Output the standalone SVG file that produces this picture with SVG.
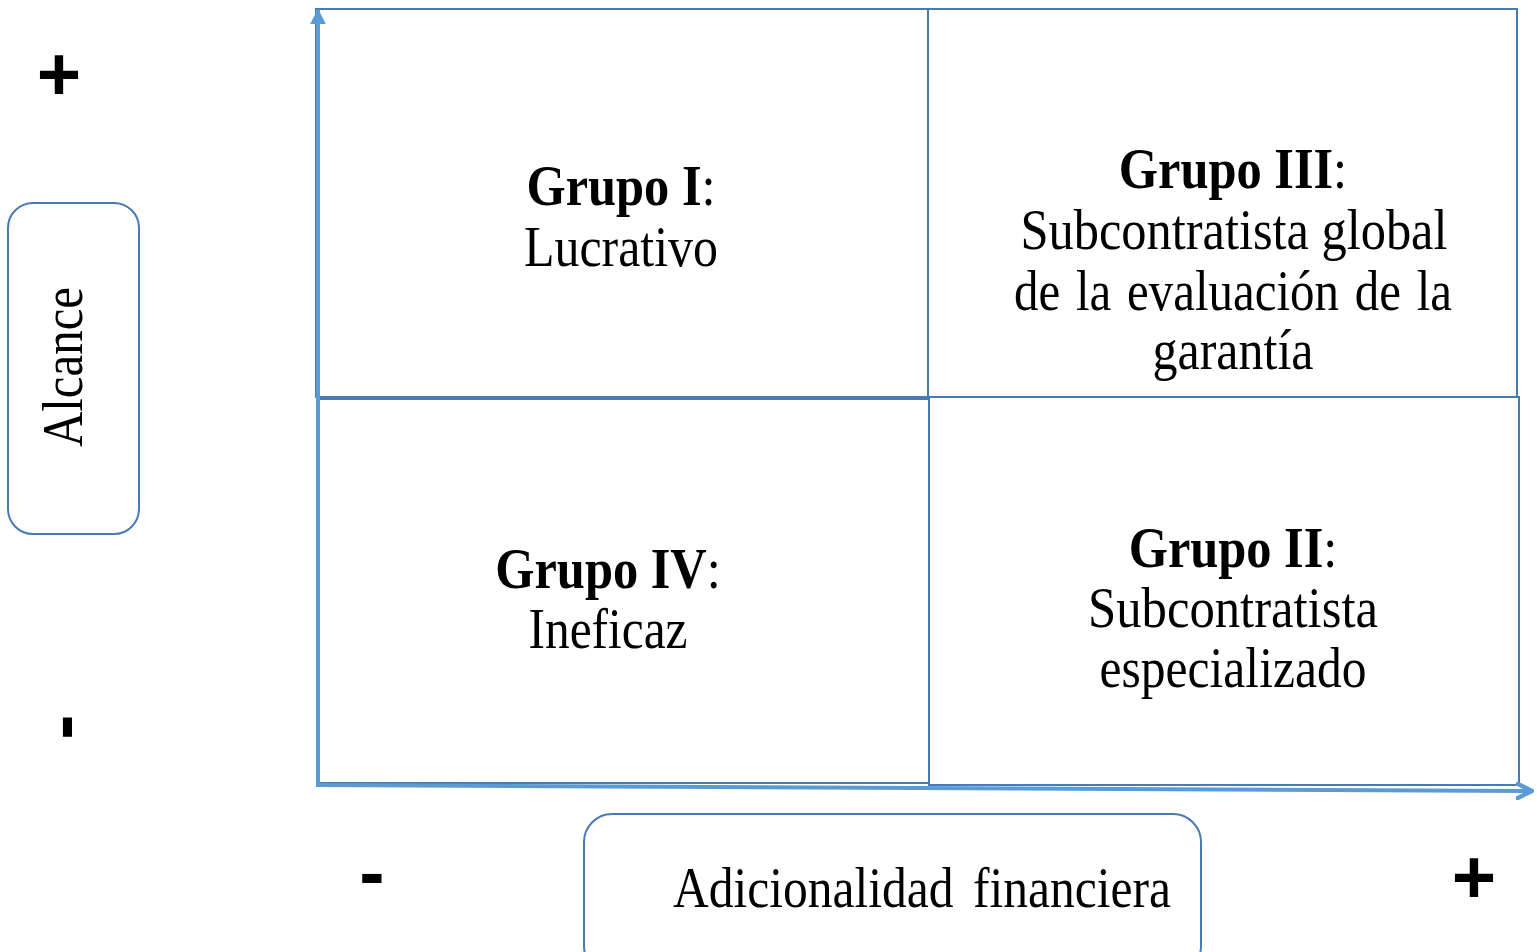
<svg xmlns="http://www.w3.org/2000/svg" width="1537" height="952" viewBox="0 0 1537 952">
<style>
.box{fill:#fff;stroke:#4a7ab2;stroke-width:2}
.lbl{fill:#fff;stroke:#4a7ab2;stroke-width:2}
.t{font-family:"Liberation Serif","Times New Roman",serif;font-size:56px;fill:#000;text-anchor:middle}
.b{font-weight:bold}
.sym{font-family:"Liberation Sans",Arial,sans-serif;font-weight:bold;font-size:76px;fill:#000;text-anchor:middle}
.axis{stroke:#5b9bd5;stroke-width:4;fill:none}
</style>
<defs>
<marker id="tri" viewBox="0 0 10 10" refX="9" refY="5" markerWidth="4" markerHeight="4" orient="auto" markerUnits="strokeWidth">
<path d="M0,0 L10,5 L0,10 z" fill="#5b9bd5"/>
</marker>
<marker id="chev" viewBox="0 0 10 10" refX="9" refY="5" markerWidth="4.5" markerHeight="4.5" orient="auto" markerUnits="strokeWidth">
<path d="M1,1 L9,5 L1,9" fill="none" stroke="#5b9bd5" stroke-width="2.4" stroke-linecap="round" stroke-linejoin="round"/>
</marker>
</defs>
<rect width="1537" height="952" fill="#fff"/>

<g id="q1">
<rect class="box" x="316" y="9" width="612" height="388"/>
<text class="t" transform="translate(621 205) scale(0.9 1)"><tspan class="b">Grupo I</tspan>:</text>
<text class="t" x="621" y="266" textLength="194" lengthAdjust="spacingAndGlyphs">Lucrativo</text>
</g>
<g id="q3">
<rect class="box" x="928" y="9" width="589" height="388"/>
<text class="t" transform="translate(1233 188) scale(0.9 1)"><tspan class="b">Grupo III</tspan>:</text>
<text class="t" x="1234" y="249" textLength="427" lengthAdjust="spacingAndGlyphs">Subcontratista global</text>
<text class="t" x="1233" y="310" textLength="438" lengthAdjust="spacingAndGlyphs" word-spacing="4">de la evaluación de la</text>
<text class="t" x="1233" y="369" textLength="161" lengthAdjust="spacingAndGlyphs">garantía</text>
</g>
<g id="q4">
<rect class="box" x="319" y="399" width="610" height="384"/>
<text class="t" transform="translate(608 588) scale(0.9 1)"><tspan class="b">Grupo IV</tspan>:</text>
<text class="t" x="608" y="648" textLength="159" lengthAdjust="spacingAndGlyphs">Ineficaz</text>
</g>
<g id="q2">
<rect class="box" x="929" y="397" width="590" height="388"/>
<text class="t" transform="translate(1233 567) scale(0.9 1)"><tspan class="b">Grupo II</tspan>:</text>
<text class="t" x="1233" y="627" textLength="290" lengthAdjust="spacingAndGlyphs">Subcontratista</text>
<text class="t" x="1233" y="687" textLength="267" lengthAdjust="spacingAndGlyphs">especializado</text>
</g>

<g id="connectors">
<line class="axis" x1="318" y1="786" x2="318" y2="10" marker-end="url(#tri)"/>
<line class="axis" x1="316" y1="785" x2="1532" y2="791" marker-end="url(#chev)"/>
</g>

<g id="alcance">
<rect class="lbl" x="8" y="203" width="131" height="331" rx="25"/>
<text class="t" transform="rotate(-90 65 367)" x="65" y="384" textLength="160" lengthAdjust="spacingAndGlyphs">Alcance</text>
</g>
<g id="adicionalidad">
<rect class="lbl" x="584" y="814" width="617" height="160" rx="28"/>
<text class="t" x="922" y="907" textLength="498" lengthAdjust="spacingAndGlyphs" word-spacing="8">Adicionalidad financiera</text>
</g>

<g id="signs">
<text class="sym" x="59" y="100">+</text>
<text class="sym" x="67" y="747" transform="rotate(-90 67 727)">-</text>
<text class="sym" x="372" y="898">-</text>
<text class="sym" x="1474" y="903">+</text>
</g>
</svg>
